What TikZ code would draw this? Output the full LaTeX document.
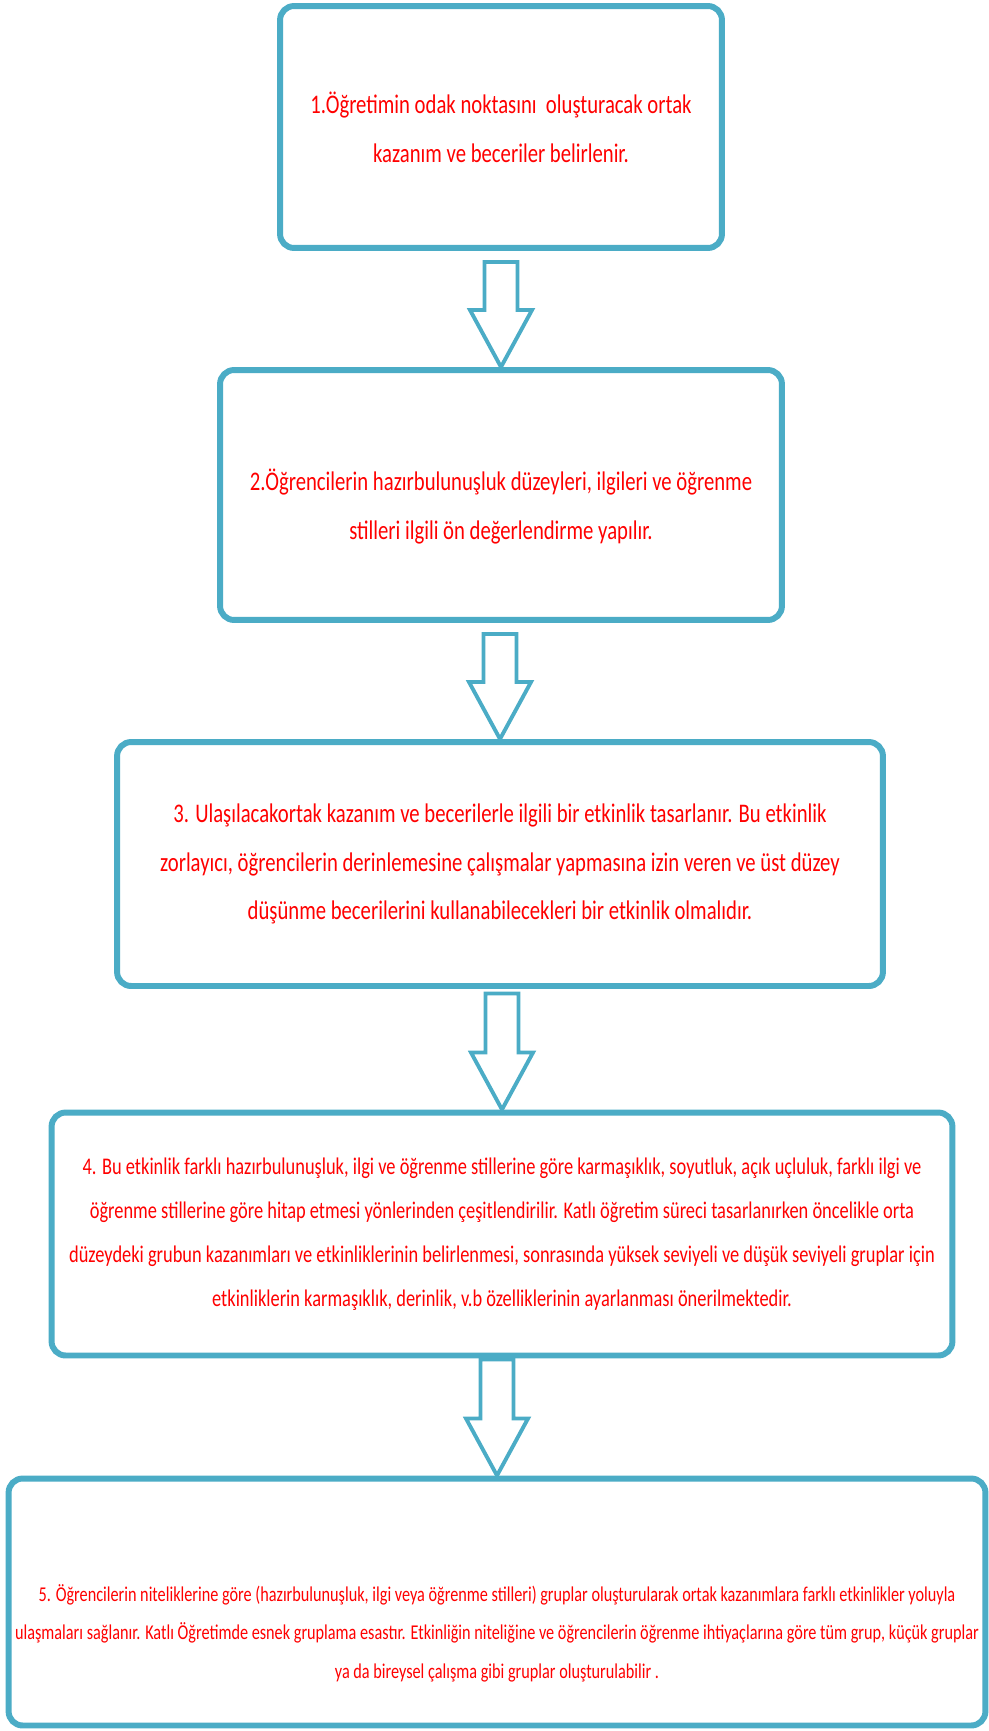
\documentclass[tikz,border=0pt]{standalone}
\usepackage{fontspec}
\usepackage{tikz}
\usetikzlibrary{positioning,calc}
\newfontfamily\stepfont{Carlito}[FakeStretch=0.77]
\definecolor{boxblue}{HTML}{4BACC6}

\tikzset{
    stepbox/.style={draw=boxblue, line width=3.4pt, rounded corners=8pt, fill=white,
        align=center, text=red, inner sep=0pt, outer sep=0pt},
    bigtext/.style={font=\stepfont\fontsize{15.3}{27.8}\selectfont},
    midtext/.style={font=\stepfont\fontsize{13.6}{25}\selectfont},
    smalltext/.style={font=\stepfont\fontsize{12}{22}\selectfont},
    blockarrow/.style={draw=boxblue, line width=2.2pt, fill=white, line join=miter}
}

\begin{document}
\begin{tikzpicture}[x=0.02cm, y=-0.02cm]
    \useasboundingbox (0,0) rectangle (988,1731);

    % Steps
    \node[stepbox, bigtext, minimum width=8.84cm, minimum height=4.84cm] (b1) at (501,127)
        {1.Öğretimin odak noktasını\ \ oluşturacak ortak\\kazanım ve beceriler belirlenir.};
    \node[stepbox, bigtext, minimum width=11.24cm, minimum height=5cm] (b2) at (501,495)
        {\raisebox{-0.2cm}[\height][\depth]{\begin{tabular}{@{}c@{}}2.Öğrencilerin hazırbulunuşluk\ düzeyleri, ilgileri ve öğrenme\\stilleri ilgili ön değerlendirme yapılır.\end{tabular}}};
    \node[stepbox, bigtext, minimum width=15.32cm, minimum height=4.88cm] (b3) at (500,864)
        {3. Ulaşılacakortak kazanım ve becerilerle ilgili bir etkinlik\ tasarlanır. Bu etkinlik\\
         zorlayıcı, öğrencilerin derinlemesine çalışmalar yapmasına izin veren ve üst düzey\\
         düşünme becerilerini\ kullanabilecekleri\ bir etkinlik olmalıdır.};
    \node[stepbox, midtext, minimum width=18.02cm, minimum height=4.86cm] (b4) at (502,1234)
        {4. Bu etkinlik farklı hazırbulunuşluk,\ ilgi ve öğrenme stillerine göre karmaşıklık, soyutluk,\ açık uçluluk,\ farklı ilgi ve\\
         öğrenme stillerine göre hitap etmesi yönlerinden\ çeşitlendirilir. Katlı öğretim süreci tasarlanırken öncelikle orta\\
         düzeydeki grubun\ kazanımları ve etkinliklerinin\ belirlenmesi, sonrasında yüksek seviyeli ve düşük seviyeli gruplar için\\
         etkinliklerin karmaşıklık, derinlik,\ v.b özelliklerinin ayarlanması önerilmektedir.};
    \node[stepbox, smalltext, minimum width=19.54cm, minimum height=4.94cm] (b5) at (497,1602)
        {\raisebox{-0.6cm}[\height][\depth]{\begin{tabular}{@{}c@{}}5. Öğrencilerin niteliklerine göre (hazırbulunuşluk, ilgi veya öğrenme stilleri) gruplar oluşturularak ortak kazanımlara farklı etkinlikler yoluyla\\
         ulaşmaları sağlanır. Katlı Öğretimde esnek gruplama esastır. Etkinliğin niteliğine ve öğrencilerin öğrenme ihtiyaçlarına göre tüm grup, küçük gruplar\\
         ya da bireysel çalışma gibi gruplar oluşturulabilir .\end{tabular}}};

    % Arrows
    \foreach \u/\l/\s in {b1/b2/48, b2/b3/48, b3/b4/59, b4/b5/59}
        \draw[blockarrow] ($(\l.north)+(0,-3)$) -- ++(-31,-57) -- ++(14.5,0) -- ++(0,-\s)
            -- ++(33,0) -- ++(0,\s) -- ++(14.5,0) -- cycle;
\end{tikzpicture}
\end{document}
